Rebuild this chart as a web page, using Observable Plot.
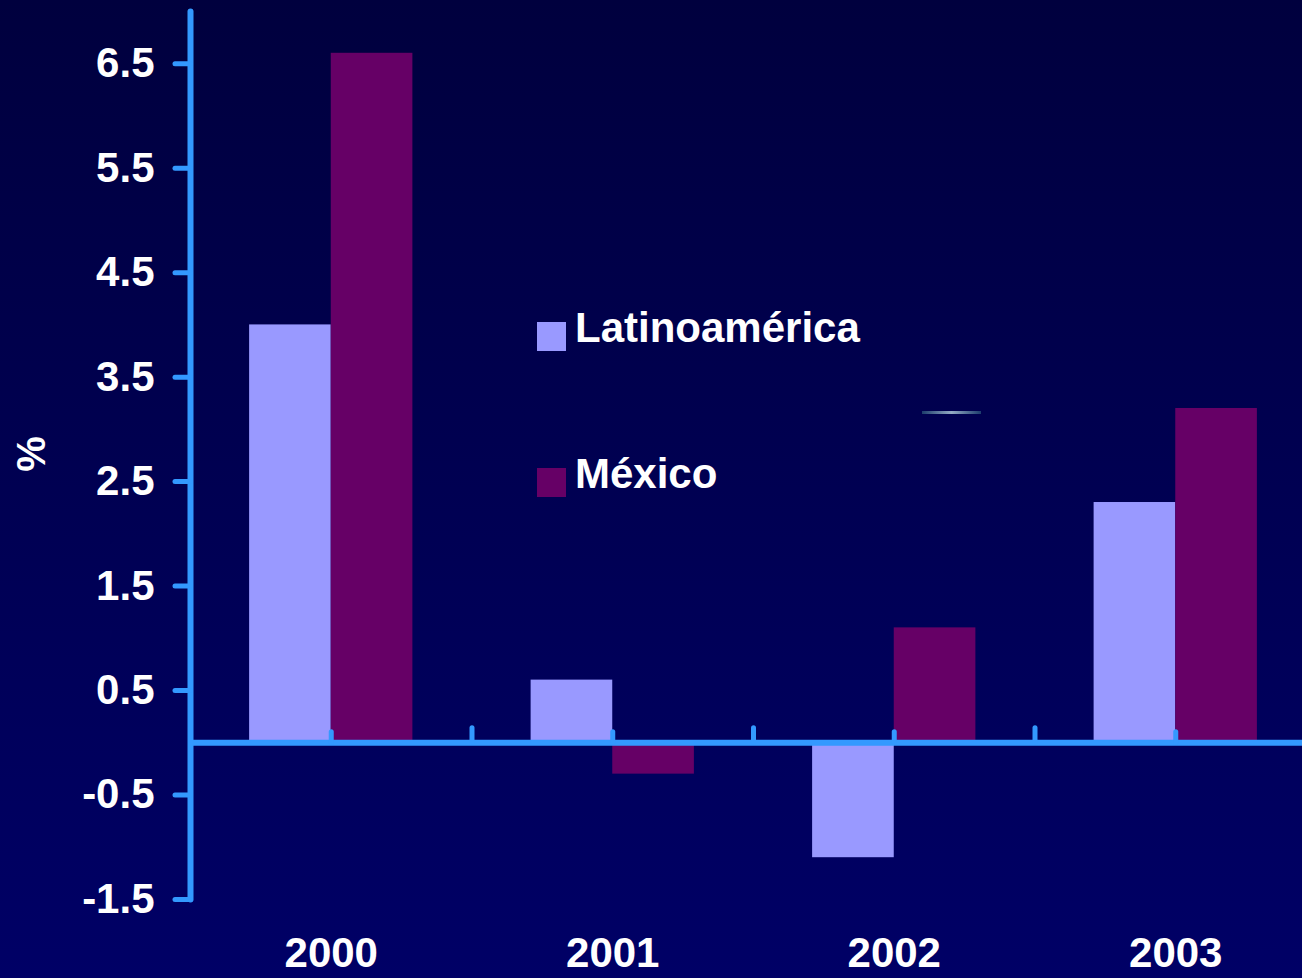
<!DOCTYPE html>
<html>
<head>
<meta charset="utf-8">
<script src="https://cdn.jsdelivr.net/npm/d3@7"></script>
<script src="https://cdn.jsdelivr.net/npm/@observablehq/plot@0.6"></script>
<style>
  html, body { margin: 0; padding: 0; overflow: hidden; }
  body { width: 1302px; height: 978px; background: linear-gradient(#00003e, #000066); font-family: "Liberation Sans", Arial, sans-serif; }
  #wrap { position: relative; width: 1302px; height: 978px; }
  .lg-sw { position: absolute; width: 29px; height: 29px; }
  .lg-tx { position: absolute; color: white; font-weight: bold; font-size: 42px; line-height: 42px; white-space: nowrap; }
  #ylab { position: absolute; color: white; font-weight: bold; font-size: 40px; line-height: 40px; left: 31px; top: 454px; transform: translate(-50%, -50%) rotate(-90deg); }
  #deco { position: absolute; left: 922px; top: 411px; width: 59px; height: 3px; background: linear-gradient(to right, #1c3c6c, #93aac4, #1c3c6c); }
</style>
</head>
<body>
<div id="wrap"></div>
<script>
// ---- data ----
const years = [2000, 2001, 2002, 2003];
const seriesNames = ["Latinoamérica", "México"];
const latinoamerica = [4.0, 0.6, -1.1, 2.3];
const mexico = [6.6, -0.3, 1.1, 3.2];
const yTicks = [-1.5, -0.5, 0.5, 1.5, 2.5, 3.5, 4.5, 5.5, 6.5];
const yLabel = "%";
const seriesColors = ["#9999ff", "#660066"];

// ---- build table ----
const rows = years.flatMap((yr, i) => [
  {year: yr, series: seriesNames[0], value: latinoamerica[i]},
  {year: yr, series: seriesNames[1], value: mexico[i]}
]);
const boundaries = years.slice(0, -1).map(y => y + 0.5);

const BW = 0.29;          // bar width in year units
const AXIS = "#3399ff";

const chart = Plot.plot({
  width: 1302,
  height: 978,
  marginLeft: 190,
  marginRight: -14,
  marginTop: 11,
  marginBottom: 79,
  style: {background: "transparent", overflow: "visible", fontFamily: "'Liberation Sans', Arial, sans-serif", fontWeight: "bold", fontSize: "42px", color: "white"},
  x: {type: "linear", domain: [1999.5, 2003.5]},
  y: {domain: [-1.5, 7.0]},
  color: {domain: seriesNames, range: seriesColors},
  marks: [
    Plot.rectY(rows, {
      x1: d => d.year - (d.series === seriesNames[0] ? BW : 0),
      x2: d => d.year + (d.series === seriesNames[1] ? BW : 0),
      y1: 0,
      y2: "value",
      fill: "series"
    }),
    Plot.ruleY([0], {stroke: AXIS, strokeWidth: 6}),
    Plot.ruleX(years, {y1: 0, y2: 0.1, stroke: AXIS, strokeWidth: 5, strokeLinecap: "round"}),
    Plot.ruleX(boundaries, {y1: 0, y2: 0.14, stroke: AXIS, strokeWidth: 5, strokeLinecap: "round"}),
    Plot.frame({anchor: "left", stroke: AXIS, strokeWidth: 6, strokeLinecap: "round"}),
    Plot.axisY({ticks: yTicks, tickSize: 15, tickPadding: 21, stroke: AXIS, strokeWidth: 5, strokeLinecap: "round",
      fill: "white", fontSize: 42, fontWeight: "bold", tickFormat: d => d.toFixed(1), label: null}),
    Plot.axisX({ticks: years, tickSize: 0, tickPadding: 38, fill: "white", fontSize: 42, fontWeight: "bold",
      tickFormat: d => String(d), label: null})
  ]
});

const wrap = document.getElementById("wrap");
wrap.appendChild(chart);

// legend (HTML overlay)
const legendPos = [{sw: 322, tx: 307}, {sw: 468, tx: 453}];
seriesNames.forEach((name, i) => {
  const sw = document.createElement("div");
  sw.className = "lg-sw";
  sw.style.left = "537px";
  sw.style.top = legendPos[i].sw + "px";
  sw.style.background = seriesColors[i];
  wrap.appendChild(sw);
  const tx = document.createElement("div");
  tx.className = "lg-tx";
  tx.style.left = "575px";
  tx.style.top = legendPos[i].tx + "px";
  tx.textContent = name;
  wrap.appendChild(tx);
});

const yl = document.createElement("div");
yl.id = "ylab";
yl.textContent = yLabel;
wrap.appendChild(yl);

const deco = document.createElement("div");
deco.id = "deco";
wrap.appendChild(deco);
</script>
</body>
</html>
